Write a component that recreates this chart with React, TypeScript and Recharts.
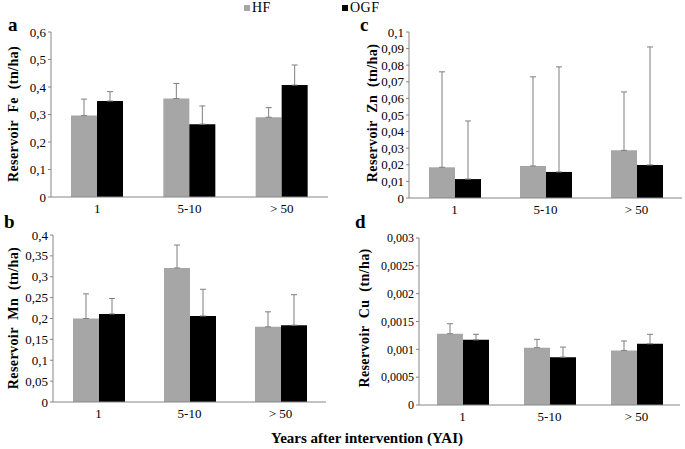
import React from 'react';
import { BarChart, Bar, XAxis, YAxis, ErrorBar } from 'recharts';

// categories (years after intervention)
const categories = ['1', '5-10', '> 50'];

// a: Fe
const feHF = [0.296, 0.358, 0.29];
const feHFSd = [0.06, 0.055, 0.035];
const feOGF = [0.349, 0.265, 0.407];
const feOGFSd = [0.034, 0.066, 0.073];
const feTicks = [0, 0.1, 0.2, 0.3, 0.4, 0.5, 0.6];

// b: Mn
const mnHF = [0.2, 0.321, 0.18];
const mnHFSd = [0.059, 0.055, 0.036];
const mnOGF = [0.211, 0.206, 0.184];
const mnOGFSd = [0.037, 0.064, 0.073];
const mnTicks = [0, 0.05, 0.1, 0.15, 0.2, 0.25, 0.3, 0.35, 0.4];

// c: Zn
const znHF = [0.0185, 0.0193, 0.0287];
const znHFSd = [0.0575, 0.0537, 0.0352];
const znOGF = [0.0114, 0.0157, 0.0199];
const znOGFSd = [0.035, 0.0633, 0.0711];
const znTicks = [0, 0.01, 0.02, 0.03, 0.04, 0.05, 0.06, 0.07, 0.08, 0.09, 0.1];

// d: Cu
const cuHF = [0.00128, 0.00103, 0.00098];
const cuHFSd = [0.00018, 0.00015, 0.00017];
const cuOGF = [0.00117, 0.00086, 0.0011];
const cuOGFSd = [0.0001, 0.00018, 0.00017];
const cuTicks = [0, 0.0005, 0.001, 0.0015, 0.002, 0.0025, 0.003];

const GRAY = '#a6a6a6';
const AXIS = '#868686';
const ERR = '#7f7f7f';
const SERIF = '"Liberation Serif", "Times New Roman", Times, serif';

const buildRows = (hf: number[], hfSd: number[], ogf: number[], ogfSd: number[]) =>
  categories.map((cat, i) => ({
    cat,
    hf: hf[i],
    hfErr: [0, hfSd[i]],
    ogf: ogf[i],
    ogfErr: [0, ogfSd[i]],
  }));

const fmt = (v: number) => String(v).replace('.', ',');

interface PanelProps {
  rows: ReturnType<typeof buildRows>;
  ticks: number[];
  left: number;
  top: number;
  width: number;
  height: number;
  margin: { top: number; right: number; bottom: number; left: number };
  yWidth: number;
  tickFont?: number;
}

const Panel: React.FC<PanelProps> = ({ rows, ticks, left, top, width, height, margin, yWidth, tickFont = 13 }) => (
  <div style={{ position: 'absolute', left, top, fontFamily: SERIF }}>
    <BarChart width={width} height={height} data={rows} margin={margin} barGap={0} barSize={26}>
      <XAxis
        dataKey="cat"
        height={20}
        stroke={AXIS}
        tickLine={false}
        tickSize={5}
        tickMargin={2}
        tick={{ fill: '#000', fontSize: 13, fontFamily: SERIF }}
      />
      <YAxis
        width={yWidth}
        domain={[ticks[0], ticks[ticks.length - 1]]}
        ticks={ticks}
        interval={0}
        stroke={AXIS}
        tickSize={3}
        tickMargin={2}
        tickFormatter={fmt}
        tick={{ fill: '#000', fontSize: tickFont, fontFamily: SERIF }}
      />
      <Bar dataKey="hf" fill={GRAY} isAnimationActive={false}>
        <ErrorBar dataKey="hfErr" width={3} stroke={ERR} strokeWidth={1} direction="y" isAnimationActive={false} />
      </Bar>
      <Bar dataKey="ogf" fill="#000" isAnimationActive={false}>
        <ErrorBar dataKey="ogfErr" width={3} stroke={ERR} strokeWidth={1} direction="y" isAnimationActive={false} />
      </Bar>
    </BarChart>
  </div>
);

const YTitle: React.FC<{ text: string; x: number; y: number }> = ({ text, x, y }) => (
  <div
    style={{
      position: 'absolute',
      left: x,
      top: y,
      transform: 'translate(-50%, -50%) rotate(-90deg)',
      whiteSpace: 'pre',
      fontFamily: SERIF,
      fontWeight: 'bold',
      fontSize: 14,
      letterSpacing: 0.4,
      lineHeight: '15px',
    }}
  >
    {text}
  </div>
);

const Letter: React.FC<{ text: string; x: number; y: number }> = ({ text, x, y }) => (
  <div
    style={{
      position: 'absolute',
      left: x,
      top: y,
      fontFamily: SERIF,
      fontWeight: 'bold',
      fontSize: 19,
      lineHeight: '19px',
    }}
  >
    {text}
  </div>
);

const LegendItem: React.FC<{ color: string; label: string; x: number }> = ({ color, label, x }) => (
  <div style={{ position: 'absolute', left: x, top: 0, display: 'flex', alignItems: 'center', fontFamily: SERIF, fontSize: 14 }}>
    <span style={{ display: 'inline-block', width: 6, height: 6, background: color, marginRight: 2 }} />
    <span style={{ letterSpacing: 0.5 }}>{label}</span>
  </div>
);

export default function App() {
  return (
    <div style={{ position: 'absolute', left: 0, top: 0, width: 685, height: 449, background: '#fff', overflow: 'hidden' }}>
      <LegendItem color={GRAY} label="HF" x={244} />
      <LegendItem color="#000" label="OGF" x={342} />

      <Panel
        rows={buildRows(feHF, feHFSd, feOGF, feOGFSd)}
        ticks={feTicks}
        left={0}
        top={0}
        width={340}
        height={220}
        margin={{ top: 32, right: 12, bottom: 3, left: 11 }}
        yWidth={40}
      />
      <Panel
        rows={buildRows(znHF, znHFSd, znOGF, znOGFSd)}
        ticks={znTicks}
        left={345}
        top={0}
        width={340}
        height={220}
        margin={{ top: 32, right: 3, bottom: 2, left: 14 }}
        yWidth={50}
      />
      <Panel
        rows={buildRows(mnHF, mnHFSd, mnOGF, mnOGFSd)}
        ticks={mnTicks}
        left={0}
        top={215}
        width={340}
        height={225}
        margin={{ top: 20, right: 14, bottom: 18, left: 13 }}
        yWidth={40}
      />
      <Panel
        rows={buildRows(cuHF, cuHFSd, cuOGF, cuOGFSd)}
        ticks={cuTicks}
        left={345}
        top={215}
        width={340}
        height={225}
        margin={{ top: 23, right: 5, bottom: 15, left: 19 }}
        yWidth={55}
        tickFont={12}
      />

      <Letter text="a" x={8} y={15} />
      <Letter text="c" x={360} y={15} />
      <Letter text="b" x={4} y={212} />
      <Letter text="d" x={355} y={212} />

      <YTitle text="Reservoir  Fe  (tn/ha)" x={13} y={114} />
      <YTitle text="Reservoir  Zn  (tn/ha)" x={372} y={113} />
      <YTitle text="Reservoir  Mn  (tn/ha)" x={13} y={318} />
      <YTitle text="Reservoir  Cu  (tn/ha)" x={364} y={318} />

      <div
        style={{
          position: 'absolute',
          left: 367,
          top: 438,
          transform: 'translate(-50%, -50%)',
          whiteSpace: 'nowrap',
          fontFamily: SERIF,
          fontWeight: 'bold',
          fontSize: 15,
        }}
      >
        Years after intervention (YAI)
      </div>
    </div>
  );
}
